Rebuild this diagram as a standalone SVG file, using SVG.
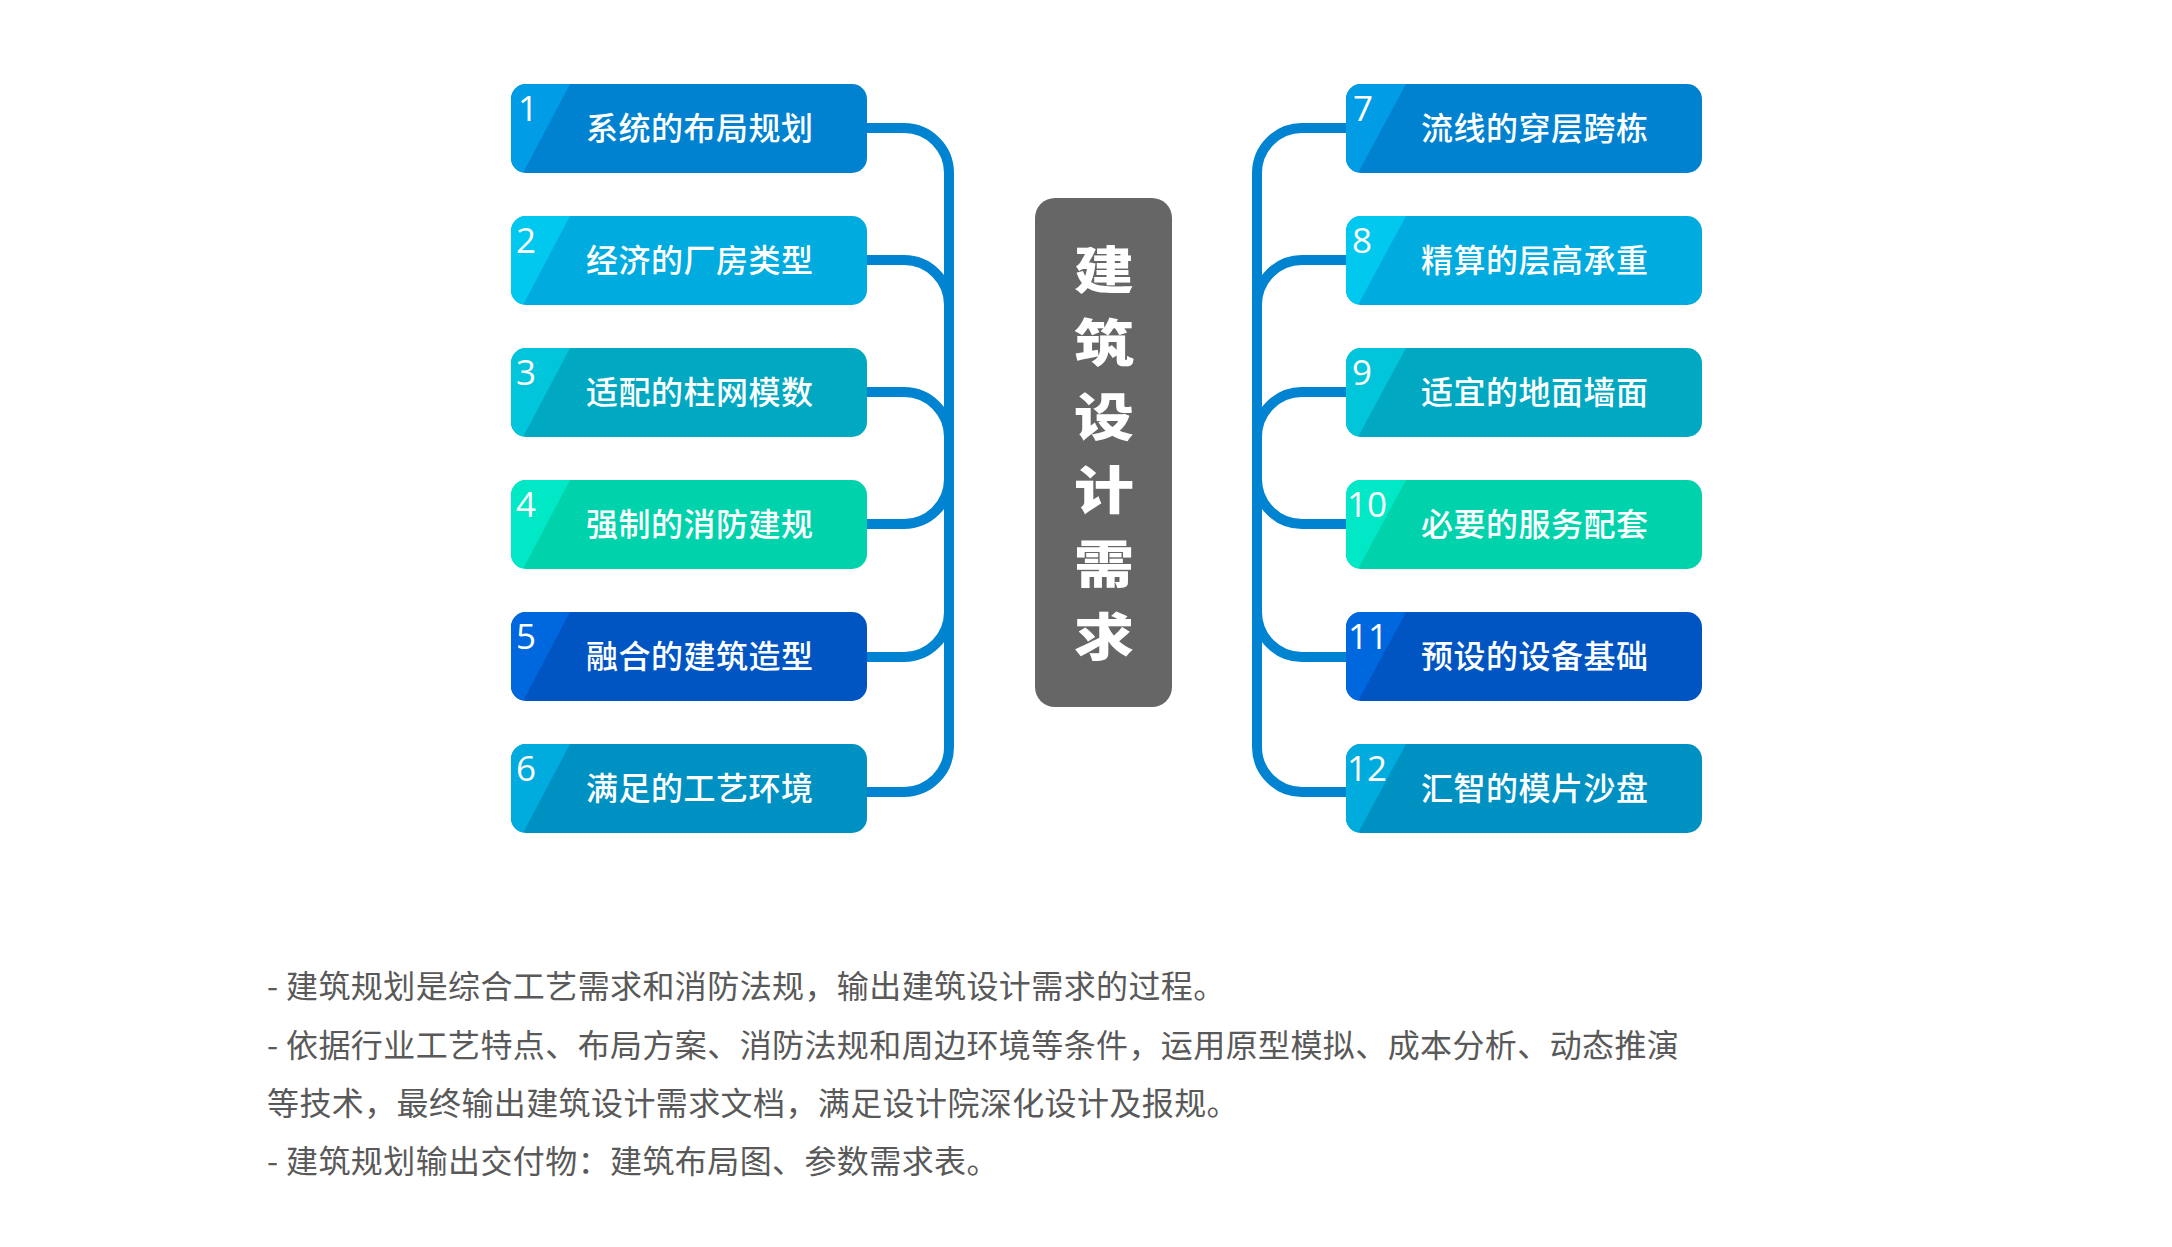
<svg xmlns="http://www.w3.org/2000/svg" width="2172" height="1247" viewBox="0 0 2172 1247">
<defs>
<clipPath id="nodeClip" clipPathUnits="userSpaceOnUse"><rect x="0" y="0" width="356" height="89" rx="15" ry="15"/></clipPath>
<style>
.lbl{font-family:"Noto Sans CJK SC","Microsoft YaHei",sans-serif;font-size:32px;font-weight:500;fill:#ffffff;letter-spacing:0.5px;}
.num{font-family:"Open Sans","Noto Sans",sans-serif;font-size:35px;fill:#ffffff;}
.conn{fill:none;stroke:#0083D1;stroke-width:10;}
.title{font-family:"Noto Sans CJK SC",sans-serif;font-size:60px;font-weight:900;fill:#ffffff;text-anchor:middle;}
.desc{font-family:"Noto Sans CJK SC",sans-serif;font-size:32px;fill:#595959;letter-spacing:0.4px;}
.c1 .m{fill:#0082D0}.c1 .a{fill:#009CE5}
.c2 .m{fill:#00ABDF}.c2 .a{fill:#00C8EE}
.c3 .m{fill:#00A9C1}.c3 .a{fill:#00C5DB}
.c4 .m{fill:#00D3AB}.c4 .a{fill:#00E8C6}
.c5 .m{fill:#0055C3}.c5 .a{fill:#0068DE}
.c6 .m{fill:#0091C3}.c6 .a{fill:#00ABDD}
</style>
</defs>
<rect width="2172" height="1247" fill="#ffffff"/>

<g id="connectors">
<path class="conn" d="M860,128 H904 A45,45 0 0 1 949,173 V747 A45,45 0 0 1 904,792 H860"/>
<path class="conn" d="M860,260 H904 A45,45 0 0 1 949,305"/>
<path class="conn" d="M860,392 H904 A45,45 0 0 1 949,437"/>
<path class="conn" d="M860,524 H904 A45,45 0 0 0 949,479"/>
<path class="conn" d="M860,657 H904 A45,45 0 0 0 949,612"/>
<path class="conn" d="M1353,128 H1302 A45,45 0 0 0 1257,173 V747 A45,45 0 0 0 1302,792 H1353"/>
<path class="conn" d="M1353,260 H1302 A45,45 0 0 0 1257,305"/>
<path class="conn" d="M1353,392 H1302 A45,45 0 0 0 1257,437"/>
<path class="conn" d="M1353,524 H1302 A45,45 0 0 1 1257,479"/>
<path class="conn" d="M1353,657 H1302 A45,45 0 0 1 1257,612"/>
</g>

<g id="node-1" class="c1" transform="translate(511,84)"><rect class="m" width="356" height="89" rx="15"/><polygon class="a" clip-path="url(#nodeClip)" points="0,0 59,0 12,89 0,89"/><text class="num" x="7" y="37">1</text><text class="lbl" x="75" y="56">系统的布局规划</text></g>
<g id="node-2" class="c2" transform="translate(511,216)"><rect class="m" width="356" height="89" rx="15"/><polygon class="a" clip-path="url(#nodeClip)" points="0,0 59,0 12,89 0,89"/><text class="num" x="5" y="37">2</text><text class="lbl" x="75" y="56">经济的厂房类型</text></g>
<g id="node-3" class="c3" transform="translate(511,348)"><rect class="m" width="356" height="89" rx="15"/><polygon class="a" clip-path="url(#nodeClip)" points="0,0 59,0 12,89 0,89"/><text class="num" x="5" y="37">3</text><text class="lbl" x="75" y="56">适配的柱网模数</text></g>
<g id="node-4" class="c4" transform="translate(511,480)"><rect class="m" width="356" height="89" rx="15"/><polygon class="a" clip-path="url(#nodeClip)" points="0,0 59,0 12,89 0,89"/><text class="num" x="5" y="37">4</text><text class="lbl" x="75" y="56">强制的消防建规</text></g>
<g id="node-5" class="c5" transform="translate(511,612)"><rect class="m" width="356" height="89" rx="15"/><polygon class="a" clip-path="url(#nodeClip)" points="0,0 59,0 12,89 0,89"/><text class="num" x="5" y="37">5</text><text class="lbl" x="75" y="56">融合的建筑造型</text></g>
<g id="node-6" class="c6" transform="translate(511,744)"><rect class="m" width="356" height="89" rx="15"/><polygon class="a" clip-path="url(#nodeClip)" points="0,0 59,0 12,89 0,89"/><text class="num" x="5" y="37">6</text><text class="lbl" x="75" y="56">满足的工艺环境</text></g>

<g id="node-7" class="c1" transform="translate(1346,84)"><rect class="m" width="356" height="89" rx="15"/><polygon class="a" clip-path="url(#nodeClip)" points="0,0 60,0 12,89 0,89"/><text class="num" x="7" y="37">7</text><text class="lbl" x="75" y="56">流线的穿层跨栋</text></g>
<g id="node-8" class="c2" transform="translate(1346,216)"><rect class="m" width="356" height="89" rx="15"/><polygon class="a" clip-path="url(#nodeClip)" points="0,0 60,0 12,89 0,89"/><text class="num" x="6" y="37">8</text><text class="lbl" x="75" y="56">精算的层高承重</text></g>
<g id="node-9" class="c3" transform="translate(1346,348)"><rect class="m" width="356" height="89" rx="15"/><polygon class="a" clip-path="url(#nodeClip)" points="0,0 60,0 12,89 0,89"/><text class="num" x="6" y="37">9</text><text class="lbl" x="75" y="56">适宜的地面墙面</text></g>
<g id="node-10" class="c4" transform="translate(1346,480)"><rect class="m" width="356" height="89" rx="15"/><polygon class="a" clip-path="url(#nodeClip)" points="0,0 60,0 12,89 0,89"/><text class="num" x="1" y="37">10</text><text class="lbl" x="75" y="56">必要的服务配套</text></g>
<g id="node-11" class="c5" transform="translate(1346,612)"><rect class="m" width="356" height="89" rx="15"/><polygon class="a" clip-path="url(#nodeClip)" points="0,0 60,0 12,89 0,89"/><text class="num" x="2" y="37">11</text><text class="lbl" x="75" y="56">预设的设备基础</text></g>
<g id="node-12" class="c6" transform="translate(1346,744)"><rect class="m" width="356" height="89" rx="15"/><polygon class="a" clip-path="url(#nodeClip)" points="0,0 60,0 12,89 0,89"/><text class="num" x="1" y="37">12</text><text class="lbl" x="75" y="56">汇智的模片沙盘</text></g>

<g id="center">
<rect x="1035" y="198" width="137" height="509" rx="20" fill="#666666"/>
<text class="title" transform="translate(1104,289) scale(1,0.85)">建</text>
<text class="title" transform="translate(1104,362) scale(1,0.85)">筑</text>
<text class="title" transform="translate(1104,436) scale(1,0.85)">设</text>
<text class="title" transform="translate(1104,509) scale(1,0.85)">计</text>
<text class="title" transform="translate(1104,583) scale(1,0.85)">需</text>
<text class="title" transform="translate(1104,656) scale(1,0.85)">求</text>
</g>

<g id="description">
<text class="desc" x="267" y="998">- 建筑规划是综合工艺需求和消防法规，输出建筑设计需求的过程。</text>
<text class="desc" x="267" y="1057">- 依据行业工艺特点、布局方案、消防法规和周边环境等条件，运用原型模拟、成本分析、动态推演</text>
<text class="desc" x="267" y="1115">等技术，最终输出建筑设计需求文档，满足设计院深化设计及报规。</text>
<text class="desc" x="267" y="1173">- 建筑规划输出交付物：建筑布局图、参数需求表。</text>
</g>
</svg>
